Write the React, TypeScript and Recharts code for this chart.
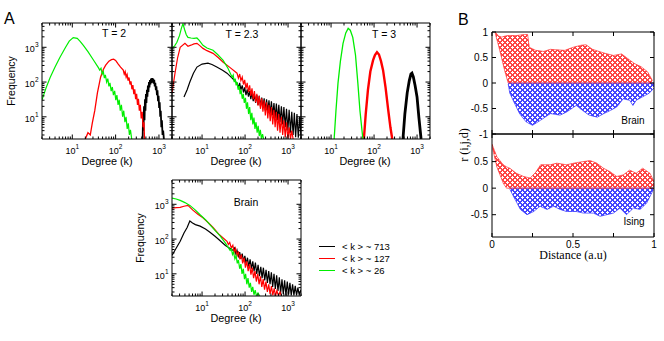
import React from 'react';
import { LineChart, ComposedChart, Line, Area, XAxis, YAxis, Legend } from 'recharts';

const W = 664;
const H = 341;
const SANS = '"Liberation Sans", Arial, sans-serif';
const SERIF = '"Liberation Serif", "Times New Roman", serif';

// ---- Panel A: degree distributions, [degree k, frequency]
const t2Black = [[420, 2.3], [430, 10], [440, 4], [452, 20], [464, 8], [476, 32], [488, 15], [500, 45], [514, 25], [528, 60], [542, 38], [556, 80], [572, 52], [588, 100], [604, 70], [620, 115], [638, 85], [656, 125], [675, 95], [694, 130], [714, 100], [735, 125], [756, 90], [778, 115], [800, 75], [824, 95], [848, 58], [873, 75], [898, 42], [925, 58], [952, 28], [980, 40], [1010, 18], [1040, 26], [1070, 10], [1100, 15], [1135, 5], [1170, 8], [1210, 3], [1250, 4], [1300, 2.3]];
const t2Red = [[20, 2.3], [23, 3.5], [26, 3], [29, 6.7], [33, 15], [38, 49], [42, 90], [45, 138], [52, 230], [59, 306], [70, 400], [80, 440], [90, 455], [100, 420], [115, 330], [130, 270], [150, 220], [158, 170], [166, 200], [175, 140], [184, 165], [194, 110], [204, 135], [215, 85], [226, 105], [238, 62], [250, 82], [263, 45], [276, 62], [290, 32], [305, 46], [320, 22], [336, 33], [353, 15], [371, 22], [390, 9], [410, 14], [430, 5], [450, 7], [465, 2.3]];
const t2Green = [[2, 31], [2.5, 70], [3.1, 138], [4, 270], [5.2, 515], [7, 1000], [8.5, 1500], [10.5, 1900], [13, 1800], [15, 1500], [18, 1140], [23, 750], [31, 425], [40, 260], [43, 220], [46, 250], [49, 170], [52, 200], [55, 130], [58, 160], [62, 100], [66, 125], [70, 75], [74, 95], [79, 55], [84, 72], [89, 42], [95, 56], [101, 30], [107, 42], [114, 22], [121, 31], [128, 15], [136, 22], [145, 10], [154, 15], [164, 7], [174, 10], [185, 4.5], [196, 6.5], [208, 3], [220, 4.2], [235, 2.3]];

const t23Black = [[3.8, 37], [4.5, 60], [5.2, 100], [6.3, 180], [7.6, 270], [10, 330], [13.7, 350], [17, 320], [22, 270], [30, 220], [38, 180], [50, 130], [65, 93], [70, 70], [75, 95], [80, 60], [86, 80], [92, 50], [98, 70], [105, 42], [112, 62], [120, 38], [128, 55], [136, 32], [145, 50], [155, 28], [165, 45], [176, 25], [188, 42], [200, 22], [214, 40], [228, 20], [244, 36], [260, 18], [278, 34], [296, 15], [316, 32], [338, 14], [360, 30], [385, 12], [410, 28], [440, 11], [470, 25], [500, 9], [535, 24], [570, 8], [610, 22], [650, 7], [700, 20], [750, 6], [800, 19], [860, 5], [920, 17], [990, 4], [1060, 16], [1140, 3.5], [1220, 14], [1310, 3], [1400, 13], [1500, 2.6], [1610, 12], [1730, 2.5], [1860, 10], [2000, 3]];
const t23Red = [[2, 49], [2.35, 180], [2.7, 500], [3.1, 1000], [4, 1300], [4.7, 1070], [5.5, 1150], [6.5, 1250], [7.6, 1300], [9, 1100], [10.5, 930], [13, 800], [18, 670], [24, 500], [31, 370], [45, 260], [65, 180], [70, 130], [75, 170], [80, 110], [86, 140], [92, 85], [98, 115], [105, 65], [112, 95], [120, 52], [128, 80], [136, 40], [145, 66], [155, 32], [165, 55], [176, 26], [188, 46], [200, 21], [214, 40], [228, 17], [244, 34], [260, 14], [278, 30], [296, 11], [316, 26], [338, 9], [360, 22], [385, 7.5], [410, 19], [440, 6], [470, 16], [500, 5], [535, 14], [570, 4], [610, 12], [650, 3.5], [700, 10], [750, 3], [800, 8], [860, 2.6], [920, 7], [990, 2.4], [1060, 5], [1140, 2.3], [1220, 4], [1310, 2.3]];
const t23Green = [[2, 940], [2.3, 1100], [2.6, 1390], [3, 2200], [3.3, 3500], [3.6, 4800], [3.9, 3300], [4.3, 2300], [4.7, 1930], [5.5, 1850], [6.5, 1800], [7.6, 1850], [8.5, 1600], [10.5, 1140], [13, 950], [18, 820], [23, 620], [31, 420], [40, 250], [50, 138], [53, 160], [56, 100], [59, 125], [62, 80], [65, 100], [69, 60], [73, 78], [77, 45], [81, 60], [86, 33], [91, 46], [96, 25], [102, 35], [108, 17], [114, 26], [121, 12], [128, 19], [136, 8], [144, 13], [152, 6], [161, 9.5], [170, 4.5], [180, 7], [191, 3.5], [202, 5.5], [214, 2.8], [227, 4.2], [240, 2.3], [255, 3.2], [270, 2.3]];

const t3Black = [[470, 2.3], [520, 12], [590, 49], [660, 110], [720, 170], [760, 180], [820, 140], [900, 80], [1000, 37], [1100, 10], [1240, 2.3]];
const t3Red = [[58, 2.3], [64, 12], [72, 59], [82, 200], [95, 425], [105, 600], [117, 720], [130, 620], [145, 400], [162, 220], [185, 70], [213, 16], [240, 5], [265, 2.3]];
const t3Green = [[11.8, 2.3], [13, 15], [14.5, 93], [16.5, 400], [19, 1300], [22, 2600], [25, 3500], [28, 3100], [32, 1930], [37, 600], [42, 93], [47, 15], [55, 2.3]];

const brainBlack = [[2, 34], [2.4, 50], [3.1, 86], [3.8, 150], [4.5, 215], [5.2, 330], [6, 290], [7, 260], [9, 235], [12, 195], [15, 160], [20, 120], [26, 91], [35, 65], [53, 47], [57, 55], [61, 38], [65, 48], [70, 32], [75, 42], [80, 27], [86, 38], [92, 23], [99, 33], [106, 19], [114, 29], [122, 16], [131, 26], [141, 14], [151, 23], [162, 12], [174, 21], [187, 10], [201, 18], [216, 8.5], [232, 16], [249, 7.5], [267, 15], [287, 6.5], [308, 13], [331, 5.5], [355, 12], [381, 5], [409, 11], [439, 4.2], [471, 10], [506, 3.7], [543, 9], [583, 3.2], [626, 8], [672, 2.8], [722, 7], [775, 2.6], [832, 6.5], [893, 2.4], [959, 6], [1030, 2.5], [1105, 5.5], [1187, 2.4], [1274, 5], [1368, 2.4], [1469, 4.5], [1577, 2.4], [1693, 4], [1818, 2.5], [2000, 3.5]];
const brainRed = [[2, 780], [2.5, 800], [3.1, 820], [3.8, 880], [4.7, 930], [6.1, 680], [8, 520], [10.5, 410], [14, 295], [18, 215], [25, 135], [38, 86], [41, 70], [44, 80], [48, 55], [52, 66], [56, 42], [60, 54], [65, 33], [70, 44], [76, 26], [82, 36], [88, 20], [95, 29], [102, 15], [110, 23], [118, 12], [127, 19], [137, 9.5], [147, 15], [158, 7.5], [170, 12], [183, 6], [197, 10], [212, 5], [228, 8.5], [245, 4.2], [264, 7], [284, 3.5], [306, 6], [330, 3], [355, 5], [382, 2.6], [411, 4.4], [442, 2.4], [476, 3.8], [512, 2.3], [550, 3.3], [600, 2.3], [650, 3], [700, 2.3]];
const brainGreen = [[2, 1500], [2.5, 1420], [3.1, 1300], [4, 1120], [5.2, 930], [7, 680], [9, 500], [12, 360], [15, 265], [20, 178], [26, 126], [35, 76], [45, 47], [48, 52], [51, 36], [54, 42], [58, 27], [62, 33], [66, 20], [70, 25], [75, 14], [80, 19], [85, 10], [91, 14], [97, 7], [103, 10], [110, 5], [117, 7.5], [125, 4], [133, 5.5], [142, 3], [151, 4.2], [161, 2.5], [172, 3.4], [184, 2.3], [200, 2.8], [220, 2.3]];

const legendNames = ['< k > ~ 713', '< k > ~ 127', '< k > ~ 26'];

const degreeTicks = [2, 3, 4, 5, 6, 7, 8, 9, 10, 20, 30, 40, 50, 60, 70, 80, 90, 100, 200, 300, 400, 500, 600, 700, 800, 900, 1000, 2000];
const freqTicks = [3, 4, 5, 6, 7, 8, 9, 10, 20, 30, 40, 50, 60, 70, 80, 90, 100, 200, 300, 400, 500, 600, 700, 800, 900, 1000, 2000, 3000, 4000, 5000];
const decades = [10, 100, 1000];

// ---- Panel B: r(i,j,d) point clouds, [distance, low, high] envelopes
const brainPos = [[0.02, 0.97, 1.0], [0.04, 0.74, 0.92], [0.06, 0.48, 0.9], [0.08, 0.22, 0.92], [0.1, 0, 0.93], [0.15, 0, 0.93], [0.2, 0, 0.95], [0.22, 0, 0.95], [0.23, 0, 0.7], [0.27, 0, 0.64], [0.32, 0, 0.62], [0.36, 0, 0.66], [0.4, 0, 0.65], [0.45, 0, 0.64], [0.5, 0, 0.7], [0.55, 0, 0.74], [0.58, 0, 0.75], [0.62, 0, 0.66], [0.66, 0, 0.62], [0.7, 0, 0.58], [0.75, 0, 0.54], [0.8, 0, 0.57], [0.85, 0, 0.45], [0.88, 0, 0.38], [0.92, 0, 0.32], [0.96, 0, 0.22], [0.99, 0, 0.05]];
const brainNeg = [[0.1, -0.02, 0], [0.11, -0.2, 0], [0.15, -0.47, 0], [0.17, -0.6, 0], [0.21, -0.76, 0], [0.25, -0.83, 0], [0.3, -0.73, 0], [0.36, -0.6, 0], [0.42, -0.63, 0], [0.46, -0.57, 0], [0.52, -0.44, 0], [0.56, -0.54, 0], [0.6, -0.63, 0], [0.65, -0.67, 0], [0.69, -0.6, 0], [0.73, -0.54, 0], [0.77, -0.47, 0], [0.81, -0.31, 0], [0.85, -0.34, 0], [0.87, -0.44, 0], [0.89, -0.34, 0], [0.93, -0.27, 0], [0.97, -0.2, 0], [1.0, -0.1, 0]];
const isingPos = [[0, 0.8, 0.83], [0.03, 0.4, 0.59], [0.07, 0.09, 0.44], [0.09, 0, 0.4], [0.11, 0, 0.375], [0.15, 0, 0.28], [0.195, 0, 0.22], [0.236, 0, 0.19], [0.27, 0, 0.3], [0.3, 0, 0.44], [0.36, 0, 0.44], [0.4, 0, 0.47], [0.46, 0, 0.44], [0.52, 0, 0.48], [0.565, 0, 0.5], [0.606, 0, 0.52], [0.647, 0, 0.47], [0.688, 0, 0.375], [0.729, 0, 0.31], [0.77, 0, 0.22], [0.81, 0, 0.25], [0.85, 0, 0.34], [0.89, 0, 0.28], [0.93, 0, 0.375], [0.975, 0, 0.28], [1.0, 0, 0.125]];
const isingNeg = [[0.11, -0.02, 0], [0.144, -0.22, 0], [0.175, -0.4, 0], [0.216, -0.5, 0], [0.257, -0.44, 0], [0.297, -0.34, 0], [0.34, -0.4, 0], [0.38, -0.34, 0], [0.42, -0.4, 0], [0.46, -0.44, 0], [0.52, -0.44, 0], [0.565, -0.47, 0], [0.626, -0.47, 0], [0.667, -0.53, 0], [0.708, -0.5, 0], [0.75, -0.47, 0], [0.79, -0.375, 0], [0.83, -0.5, 0], [0.873, -0.375, 0], [0.914, -0.4, 0], [0.955, -0.28, 0], [0.996, -0.03, 0]];

const distTicks = [0, 0.25, 0.5, 0.75, 1];
const distLabels = [0, 0.5, 1];
const corrTicksBrain = [-1, -0.5, 0, 0.5, 1];
const corrTicksIsing = [-0.5, 0, 0.5];

const toPts = (a: number[][]) => a.map(([k, f]) => ({ k, f }));
const toRange = (a: number[][]) => a.map(([d, lo, hi]) => ({ d, r: [lo, hi] }));

type Side = 'bottom' | 'top' | 'left' | 'right';

const inward = (side: Side, len: number) =>
  side === 'bottom' ? [0, -len] : side === 'top' ? [0, len] : side === 'left' ? [len, 0] : [-len, 0];

const logTick = (side: Side, labelled: boolean) => (props: any) => {
  const { x, y, payload } = props;
  const v = payload.value;
  const major = decades.includes(v);
  const [dx, dy] = inward(side, major ? 4.5 : 2.5);
  let label = null;
  if (labelled && major) {
    const exp = Math.round(Math.log10(v));
    label = side === 'bottom' ? (
      <text x={x} y={y + 14.5} textAnchor="middle" fontSize={9} fontFamily={SANS} fill="#000">
        10<tspan dy={-5} fontSize={6.5}>{exp}</tspan>
      </text>
    ) : (
      <text x={x - 3.5} y={y + 5} textAnchor="end" fontSize={9} fontFamily={SANS} fill="#000">
        10<tspan dy={-5} fontSize={6.5}>{exp}</tspan>
      </text>
    );
  }
  return (
    <g>
      <line x1={x} y1={y} x2={x + dx} y2={y + dy} stroke="#000" strokeWidth={1} />
      {label}
    </g>
  );
};

const linTick = (side: Side, labels: number[]) => (props: any) => {
  const { x, y, payload } = props;
  const v = payload.value;
  const [dx, dy] = inward(side, 4);
  let label = null;
  if (labels.includes(v)) {
    label = side === 'bottom' ? (
      <text x={x} y={y + 10.5} textAnchor="middle" fontSize={10} fontFamily={SANS} fill="#000">{String(v)}</text>
    ) : (
      <text x={x - 4} y={y + 3.5} textAnchor="end" fontSize={10} fontFamily={SANS} fill="#000">{String(v)}</text>
    );
  }
  return (
    <g>
      <line x1={x} y1={y} x2={x + dx} y2={y + dy} stroke="#000" strokeWidth={1} />
      {label}
    </g>
  );
};

const axisLine = { stroke: '#000', strokeWidth: 1 };

type Series = { data: number[][]; color: string; width: number; name?: string };

const LegendBox = ({ payload }: any) => {
  const items = [...(payload || [])].sort((a: any, b: any) => legendNames.indexOf(a.value) - legendNames.indexOf(b.value));
  return (
    <div style={{ fontFamily: SANS, fontSize: 9.5, color: '#000' }}>
      {items.map((p: any) => (
        <div key={p.value} style={{ display: 'flex', alignItems: 'center', height: 12 }}>
          <span style={{ width: 16, borderTop: `1.5px solid ${p.color}`, marginRight: 7 }} />
          <span style={{ whiteSpace: 'pre' }}>{p.value}</span>
        </div>
      ))}
    </div>
  );
};

// every chart covers the whole page; margins place its plot rectangle
function DegreePlot({ x, y, w, h, yDomain, series, yLabels, legend }: {
  x: number; y: number; w: number; h: number; yDomain: number[]; series: Series[]; yLabels: boolean; legend?: boolean;
}) {
  const margin = { left: x - 1, top: y - 1, right: W - x - w - 1, bottom: H - y - h - 1 };
  const yTicks = freqTicks.filter((t) => t > yDomain[0] && t < yDomain[1]);
  return (
    <div style={{ position: 'absolute', left: 0, top: 0 }}>
      <LineChart width={W} height={H} margin={margin}>
        <XAxis dataKey="k" type="number" scale="log" domain={[2, 2000]} allowDataOverflow ticks={degreeTicks} interval={0}
          height={1} tickSize={0} tickMargin={0} tickLine={false} axisLine={axisLine} tick={logTick('bottom', true)} />
        <XAxis xAxisId="top" orientation="top" dataKey="k" type="number" scale="log" domain={[2, 2000]} allowDataOverflow ticks={degreeTicks} interval={0}
          height={1} tickSize={0} tickMargin={0} tickLine={false} axisLine={axisLine} tick={logTick('top', false)} />
        <YAxis type="number" scale="log" domain={yDomain} allowDataOverflow ticks={yTicks} interval={0}
          width={1} tickSize={0} tickMargin={0} tickLine={false} axisLine={axisLine} tick={logTick('left', yLabels)} />
        <YAxis yAxisId="right" orientation="right" type="number" scale="log" domain={yDomain} allowDataOverflow ticks={yTicks} interval={0}
          width={1} tickSize={0} tickMargin={0} tickLine={false} axisLine={axisLine} tick={logTick('right', false)} />
        {series.map((s, i) => (
          <Line key={i} data={toPts(s.data)} dataKey="f" name={s.name} stroke={s.color} strokeWidth={s.width}
            dot={false} activeDot={false} type="linear" isAnimationActive={false} />
        ))}
        {legend ? (
          <Legend layout="vertical" align="center" verticalAlign="middle" content={<LegendBox />}
            wrapperStyle={{ left: 319, top: 240, width: 110, height: 40 }} />
        ) : null}
      </LineChart>
    </div>
  );
}

function CorrPlot({ y, h, yDomain, yTicks, pos, neg, xLabels }: {
  y: number; h: number; yDomain: number[]; yTicks: number[]; pos: number[][]; neg: number[][]; xLabels: boolean;
}) {
  const x = 492;
  const w = 162;
  const margin = { left: x - 1, top: y - 1, right: W - x - w - 1, bottom: H - y - h - 1 };
  return (
    <div style={{ position: 'absolute', left: 0, top: 0 }}>
      <ComposedChart width={W} height={H} margin={margin}>
        <XAxis dataKey="d" type="number" domain={[0, 1]} allowDataOverflow ticks={distTicks} interval={0}
          height={1} tickSize={0} tickMargin={0} tickLine={false} axisLine={axisLine} tick={linTick('bottom', xLabels ? distLabels : [])} />
        <XAxis xAxisId="top" orientation="top" dataKey="d" type="number" domain={[0, 1]} allowDataOverflow ticks={distTicks} interval={0}
          height={1} tickSize={0} tickMargin={0} tickLine={false} axisLine={axisLine} tick={linTick('top', [])} />
        <YAxis type="number" domain={yDomain} allowDataOverflow ticks={yTicks} interval={0}
          width={1} tickSize={0} tickMargin={0} tickLine={false} axisLine={axisLine} tick={linTick('left', yTicks)} />
        <YAxis yAxisId="right" orientation="right" type="number" domain={yDomain} allowDataOverflow ticks={yTicks} interval={0}
          width={1} tickSize={0} tickMargin={0} tickLine={false} axisLine={axisLine} tick={linTick('right', [])} />
        <Area data={toRange(neg)} dataKey="r" type="linear" stroke="#3333ff" strokeWidth={0.7} fill="url(#blueRings)" fillOpacity={1} isAnimationActive={false} />
        <Area data={toRange(pos)} dataKey="r" type="linear" stroke="#ff3333" strokeWidth={0.7} fill="url(#redRings)" fillOpacity={1} isAnimationActive={false} />
      </ComposedChart>
    </div>
  );
}

const Rings = ({ id, color }: { id: string; color: string }) => (
  <pattern id={id} width={5} height={5} patternUnits="userSpaceOnUse">
    {[[0, 0], [5, 0], [0, 5], [5, 5], [2.5, 2.5]].map(([cx, cy], i) => (
      <circle key={i} cx={cx} cy={cy} r={2} fill="none" stroke={color} strokeWidth={0.85} />
    ))}
  </pattern>
);

const txt = { fontFamily: SANS, fill: '#000' };

export default function App() {
  const dom = [2.3, 5000];
  return (
    <div style={{ position: 'absolute', left: 0, top: 0, width: W, height: H, background: '#fff', overflow: 'hidden' }}>
      <svg width={0} height={0} style={{ position: 'absolute' }}>
        <defs>
          <Rings id="redRings" color="#ff1a1a" />
          <Rings id="blueRings" color="#1a1aff" />
        </defs>
      </svg>

      <DegreePlot x={42} y={23} w={130} h={116} yDomain={dom} yLabels
        series={[{ data: t2Black, color: '#000', width: 1.8 }, { data: t2Red, color: '#ff0000', width: 1.3 }, { data: t2Green, color: '#00ee00', width: 1.2 }]} />
      <DegreePlot x={172} y={23} w={129} h={116} yDomain={dom} yLabels={false}
        series={[{ data: t23Black, color: '#000', width: 1.2 }, { data: t23Red, color: '#ff0000', width: 1.2 }, { data: t23Green, color: '#00ee00', width: 1.2 }]} />
      <DegreePlot x={301} y={23} w={129} h={116} yDomain={dom} yLabels={false}
        series={[{ data: t3Black, color: '#000', width: 2.8 }, { data: t3Red, color: '#ff0000', width: 2.4 }, { data: t3Green, color: '#00ee00', width: 1.3 }]} />
      <DegreePlot x={172} y={180} w={129} h={116} yDomain={dom} yLabels legend
        series={[{ data: brainBlack, color: '#000', width: 1.2, name: legendNames[0] }, { data: brainRed, color: '#ff0000', width: 1.2, name: legendNames[1] }, { data: brainGreen, color: '#00ee00', width: 1.2, name: legendNames[2] }]} />

      <CorrPlot y={32} h={102} yDomain={[-1, 1]} yTicks={corrTicksBrain} pos={brainPos} neg={brainNeg} xLabels={false} />
      <CorrPlot y={134} h={103} yDomain={[-0.92, 1.02]} yTicks={corrTicksIsing} pos={isingPos} neg={isingNeg} xLabels />

      <svg width={W} height={H} style={{ position: 'absolute', left: 0, top: 0, pointerEvents: 'none' }}>
        <text x={4} y={24} fontSize={16} {...txt}>A</text>
        <text x={458} y={25} fontSize={16} {...txt}>B</text>

        <text x={114} y={37} fontSize={10.5} textAnchor="middle" {...txt}>T = 2</text>
        <text x={242} y={38} fontSize={10.5} textAnchor="middle" {...txt}>T = 2.3</text>
        <text x={384} y={38} fontSize={10.5} textAnchor="middle" {...txt}>T = 3</text>
        <text x={246} y={206} fontSize={10.5} textAnchor="middle" {...txt}>Brain</text>

        <text x={107} y={165} fontSize={10.8} textAnchor="middle" {...txt}>Degree (k)</text>
        <text x={236} y={165} fontSize={10.8} textAnchor="middle" {...txt}>Degree (k)</text>
        <text x={365} y={165} fontSize={10.8} textAnchor="middle" {...txt}>Degree (k)</text>
        <text x={236} y={322} fontSize={10.8} textAnchor="middle" {...txt}>Degree (k)</text>

        <text transform="translate(14.5,81) rotate(-90)" fontSize={10.5} textAnchor="middle" {...txt}>Frequency</text>
        <text transform="translate(144,238) rotate(-90)" fontSize={10.5} textAnchor="middle" {...txt}>Frequency</text>

        <text x={633} y={124} fontSize={10} textAnchor="middle" {...txt}>Brain</text>
        <text x={634} y={225} fontSize={10} textAnchor="middle" {...txt}>Ising</text>
        <text x={573} y={259} fontSize={12} textAnchor="middle" fontFamily={SERIF} fill="#000">Distance (a.u)</text>
        <text transform="translate(468,145) rotate(-90)" fontSize={12} textAnchor="middle" fontFamily={SERIF} fill="#000">r (i,j,d)</text>
      </svg>
    </div>
  );
}
